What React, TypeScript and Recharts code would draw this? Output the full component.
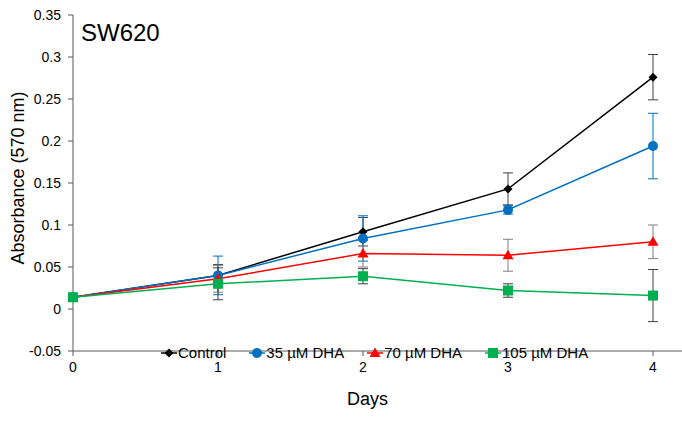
import React from "react";
import {
  ErrorBar,
  Label,
  Legend,
  Line,
  LineChart,
  XAxis,
  YAxis,
} from "recharts";

const days = [0, 1, 2, 3, 4];
const control = [0.014, 0.04, 0.092, 0.143, 0.276];
const controlErr = [0.002, 0.013, 0.017, 0.019, 0.027];
const dha35 = [0.014, 0.04, 0.084, 0.118, 0.194];
const dha35Err = [0.002, 0.023, 0.027, 0.005, 0.039];
const dha70 = [0.014, 0.036, 0.066, 0.064, 0.08];
const dha70Err = [0.002, 0.016, 0.016, 0.019, 0.02];
const dha105 = [0.014, 0.03, 0.039, 0.022, 0.016];
const dha105Err = [0.002, 0.019, 0.009, 0.008, 0.031];

const yTicks = [-0.05, 0, 0.05, 0.1, 0.15, 0.2, 0.25, 0.3, 0.35];
const xTicks = [0, 1, 2, 3, 4];

const data = days.map((d, i) => ({
  day: d,
  control: control[i],
  controlErr: controlErr[i],
  dha35: dha35[i],
  dha35Err: dha35Err[i],
  dha70: dha70[i],
  dha70Err: dha70Err[i],
  dha105: dha105[i],
  dha105Err: dha105Err[i],
}));

const font = "'Liberation Sans', Arial, sans-serif";
const axisColor = "#595959";

type Shape = "diamond" | "circle" | "triangle" | "square";

function marker(shape: Shape, cx: number, cy: number, color: string, key?: any) {
  if (shape === "diamond") {
    return (
      <path key={key} d={`M${cx},${cy - 4.5}L${cx + 4.5},${cy}L${cx},${cy + 4.5}L${cx - 4.5},${cy}Z`} fill={color} />
    );
  }
  if (shape === "circle") {
    return <circle key={key} cx={cx} cy={cy} r={5} fill={color} />;
  }
  if (shape === "triangle") {
    return (
      <path key={key} d={`M${cx},${cy - 5.5}L${cx + 5.5},${cy + 4}L${cx - 5.5},${cy + 4}Z`} fill={color} />
    );
  }
  return <rect key={key} x={cx - 5} y={cy - 5} width={10} height={10} fill={color} />;
}

const series = [
  { key: "control", name: "Control", color: "#000000", err: "#404040", shape: "diamond" as Shape },
  { key: "dha35", name: "35 µM DHA", color: "#0070C0", err: "#0070C0", shape: "circle" as Shape },
  { key: "dha70", name: "70 µM DHA", color: "#FF0000", err: "#7f7f7f", shape: "triangle" as Shape },
  { key: "dha105", name: "105 µM DHA", color: "#00B050", err: "#404040", shape: "square" as Shape },
];

function LegendBox() {
  return (
    <div style={{ display: "flex", gap: 23, fontFamily: font, fontSize: 15, color: "#000" }}>
      {series.map((s) => (
        <div key={s.key} style={{ display: "flex", alignItems: "center" }}>
          <svg width={16} height={12} style={{ marginRight: 1 }}>
            <line x1={0} y1={6} x2={16} y2={6} stroke={s.color} strokeWidth={1.5} />
            {marker(s.shape, 8, 6, s.color)}
          </svg>
          <span>{s.name}</span>
        </div>
      ))}
    </div>
  );
}

export default function App() {
  return (
    <div style={{ position: "absolute", left: 0, top: 0, width: 682, height: 434, background: "#fff" }}>
      <LineChart width={682} height={434} data={data} margin={{ top: 15, right: 0, bottom: 0, left: 0 }}>
        <XAxis
          dataKey="day"
          type="number"
          domain={[0, 4.2]}
          ticks={xTicks}
          stroke={axisColor}
          tickSize={5}
          tickMargin={6}
          height={66}
          tick={{ fill: "#000", fontSize: 14, fontFamily: font }}
        >
          <Label value="Days" position="insideBottom" offset={12} dx={-10} style={{ fontSize: 18, fontFamily: font, fill: "#000" }} />
        </XAxis>
        <YAxis
          type="number"
          domain={[-0.05, 0.35]}
          ticks={yTicks}
          interval={0}
          width={73}
          stroke={axisColor}
          tickSize={5}
          tickMargin={7}
          tickFormatter={(v) => String(v)}
          tick={{ fill: "#000", fontSize: 14, fontFamily: font }}
        >
          <Label
            content={(props: any) => {
              const vb = props.viewBox || { x: 0, y: 15, width: 73, height: 353 };
              const x = vb.x + 18;
              const y = vb.y + vb.height / 2 - 5;
              return (
                <text
                  x={x}
                  y={y}
                  transform={`rotate(-90 ${x} ${y})`}
                  textAnchor="middle"
                  dominantBaseline="central"
                  style={{ fontSize: 18, fontFamily: font, fill: "#000" }}
                >
                  Absorbance (570 nm)
                </text>
              );
            }}
          />
        </YAxis>
        <Legend content={() => <LegendBox />} wrapperStyle={{ left: 161, top: 344, width: "auto" }} />
        {series.map((s) => (
          <Line
            key={s.key}
            dataKey={s.key}
            name={s.name}
            type="linear"
            stroke={s.color}
            strokeWidth={1.5}
            isAnimationActive={false}
            dot={(p: any) => marker(s.shape, p.cx, p.cy, s.color, `${s.key}-${p.index}`)}
            activeDot={false}
          >
            <ErrorBar dataKey={`${s.key}Err`} width={5} stroke={s.err} strokeWidth={1} direction="y" />
          </Line>
        ))}
      </LineChart>
      <div
        style={{
          position: "absolute",
          left: 81,
          top: 19,
          fontFamily: font,
          fontSize: 24,
          color: "#000",
        }}
      >
        SW620
      </div>
    </div>
  );
}
